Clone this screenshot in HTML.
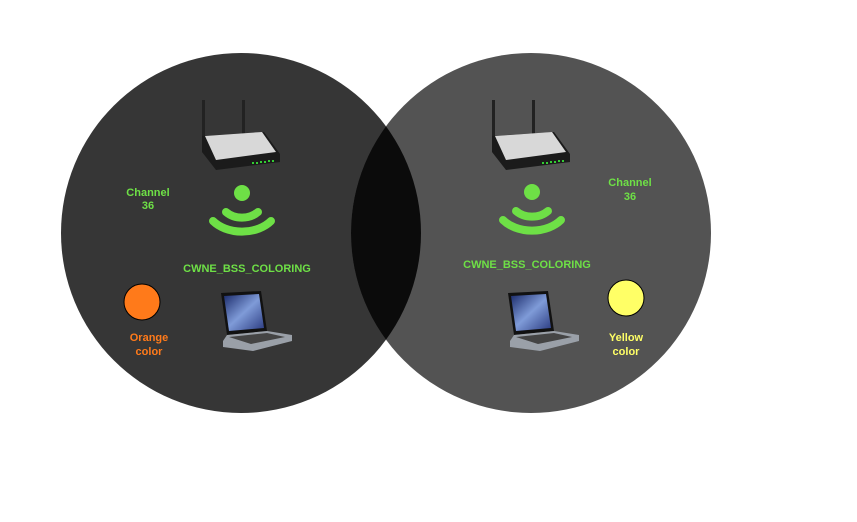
<!DOCTYPE html>
<html><head><style>body{margin:0;background:#fff}svg{display:block}</style></head><body>
<svg width="857" height="522" xmlns="http://www.w3.org/2000/svg" font-family="Liberation Sans, sans-serif" font-weight="bold">
<defs>
<clipPath id="cl"><circle cx="241" cy="233" r="180"/></clipPath>
<linearGradient id="scr" x1="0" y1="0" x2="1" y2="1"><stop offset="0" stop-color="#1a2a6a"/><stop offset="0.5" stop-color="#7f9bd8"/><stop offset="1" stop-color="#2a3a80"/></linearGradient>
<g id="router">
<rect x="0" y="0" width="3" height="40" fill="#222"/>
<rect x="40" y="0" width="3" height="40" fill="#222"/>
<path d="M0 36 L62 32 L78 54 L78 62 L14 70 L0 52 Z" fill="#1b1b1b"/>
<path d="M3 36 L60 32 L74 52 L14 60 Z" fill="#d8d8d8"/>
<g fill="#3c3">
<rect x="50" y="62" width="2" height="2"/><rect x="54" y="62" width="2" height="2"/><rect x="58" y="61" width="2" height="2"/><rect x="62" y="61" width="2" height="2"/><rect x="66" y="60" width="2" height="2"/><rect x="70" y="60" width="2" height="2"/></g>
</g>
<g id="laptop">
<path d="M8 2 L48 0 L54 40 L14 44 Z" fill="#111"/>
<path d="M11 5 L46 3 L51 37 L16 40 Z" fill="url(#scr)"/>
<path d="M14 44 L54 40 L79 44 L79 50 L40 60 L10 56 L10 50 Z" fill="#9aa0a8"/>
<path d="M16 46 L54 42 L72 46 L38 53 Z" fill="#444"/>
</g>
<g id="wifi" fill="none" stroke="#6ee046" stroke-width="8" stroke-linecap="round">
<path d="M-16 10 A22 18 0 0 0 16 10"/>
<path d="M-29 19 A36 26 0 0 0 29 19"/>
</g>
</defs>
<circle cx="241" cy="233" r="180" fill="#363636"/>
<circle cx="531" cy="233" r="180" fill="#535353"/>
<circle cx="531" cy="233" r="180" fill="#0b0b0b" clip-path="url(#cl)"/>
<use href="#router" x="202" y="100"/>
<use href="#router" x="492" y="100"/>
<circle cx="242" cy="193" r="8" fill="#6ee046"/>
<use href="#wifi" x="242" y="202"/>
<circle cx="532" cy="192" r="8" fill="#6ee046"/>
<use href="#wifi" x="532" y="201"/>
<use href="#laptop" x="213" y="291"/>
<use href="#laptop" x="500" y="291"/>
<g fill="#6ee046" font-size="11" text-anchor="middle">
<text x="148" y="196">Channel</text><text x="148" y="209">36</text>
<text x="630" y="186">Channel</text><text x="630" y="200">36</text>
<text x="247" y="272">CWNE_BSS_COLORING</text>
<text x="527" y="268">CWNE_BSS_COLORING</text>
</g>
<circle cx="142" cy="302" r="18" fill="#ff7a1a" stroke="#000" stroke-width="1"/>
<circle cx="626" cy="298" r="18" fill="#ffff66" stroke="#000" stroke-width="1"/>
<g font-size="11" text-anchor="middle">
<text x="149" y="341" fill="#ff7a1a">Orange</text><text x="149" y="355" fill="#ff7a1a">color</text>
<text x="626" y="341" fill="#ffff66">Yellow</text><text x="626" y="355" fill="#ffff66">color</text>
</g>
</svg>
</body></html>
